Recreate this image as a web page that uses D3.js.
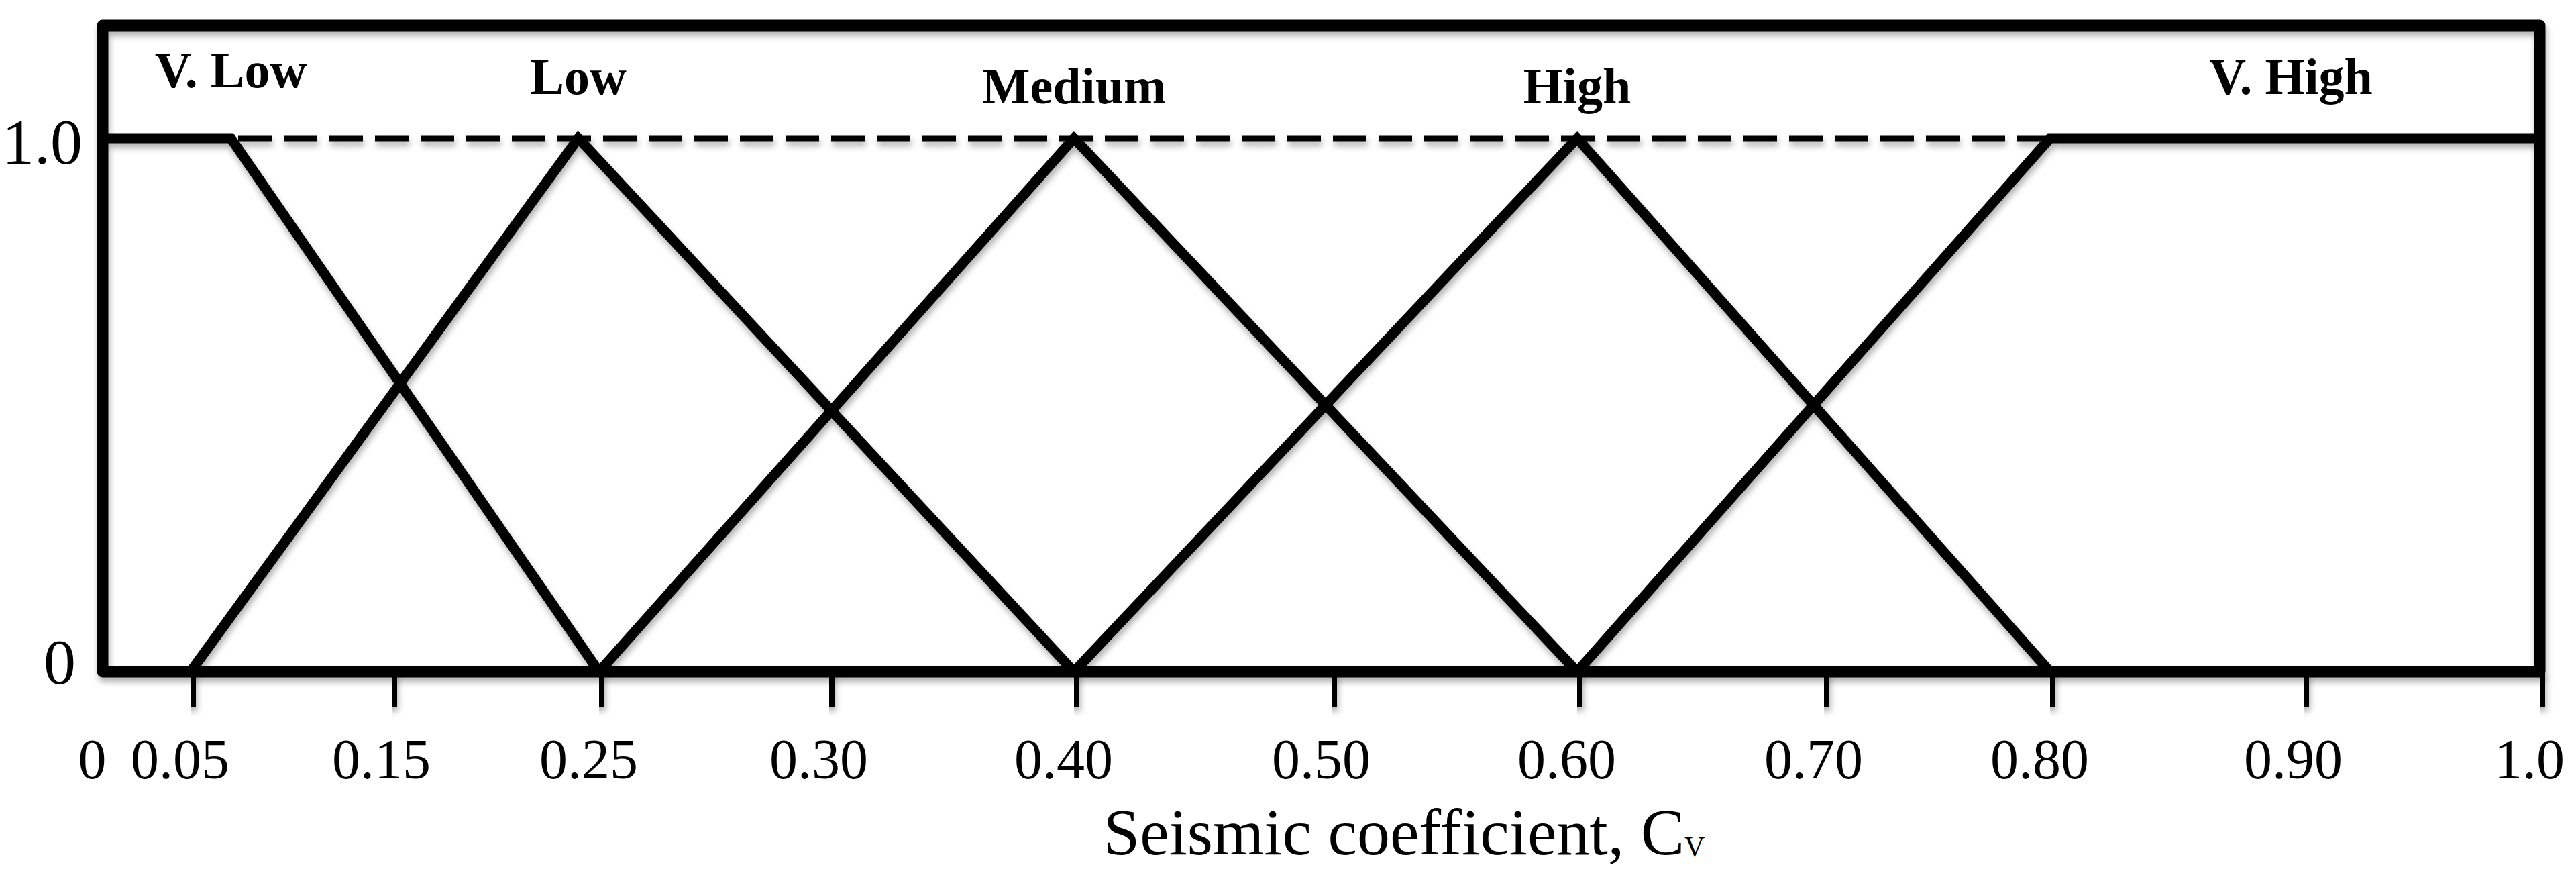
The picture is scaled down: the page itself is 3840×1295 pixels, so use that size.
<!DOCTYPE html>
<html>
<head>
<meta charset="utf-8">
<script src="https://cdn.jsdelivr.net/npm/d3@7"></script>
<style>
  html, body { margin: 0; padding: 0; background: #ffffff; }
  svg { display: block; }
</style>
</head>
<body>
<svg id="chart" width="3840" height="1295"></svg>
<script>
// ---------------- DATA ----------------
const xTickValues = [0, 0.05, 0.15, 0.25, 0.30, 0.40, 0.50, 0.60, 0.70, 0.80, 0.90, 1.0];
const xTickLabels = ["0", "0.05", "0.15", "0.25", "0.30", "0.40", "0.50", "0.60", "0.70", "0.80", "0.90", "1.0"];
const yTickValues = [0, 1];
const yTickLabels = ["0", "1.0"];
const categories = ["V. Low", "Low", "Medium", "High", "V. High"];

// membership functions (x = seismic coefficient, y = membership degree)
const vLowX = [0, 0.07, 0.25];
const vLowY = [1, 1, 0];
const lowX = [0.05, 0.24, 0.40];
const lowY = [0, 1, 0];
const mediumX = [0.25, 0.40, 0.60];
const mediumY = [0, 1, 0];
const highX = [0.40, 0.60, 0.80];
const highY = [0, 1, 0];
const vHighX = [0.60, 0.80, 1.0];
const vHighY = [0, 1, 1];

// dashed reference line at membership = 1
const refLineX = [0.07, 0.80];
const refLineY = [1, 1];

// where each category name sits along x (data units)
const categoryLabelAt = [0.07, 0.24, 0.40, 0.60, 0.895];

const xTitle = "Seismic coefficient, C";
const xTitleSub = "V";

// ---------------- LAYOUT ----------------
// the printed axis is not linear: pixel position of every tick value
const xTickPx = [153, 284, 584, 893, 1236, 1601, 1985, 2351, 2719, 3056, 3434, 3786];
const plotTop = 38, plotBottom = 1001, yOnePx = 206;
const categoryBaselines = [130, 140, 154, 154, 140];
const FONT = "'Liberation Serif', 'Times New Roman', Times, serif";

const svg = d3.select("#chart");

const x = d3.scaleLinear().domain(xTickValues).range(xTickPx);
const y = d3.scaleLinear().domain([0, 1]).range([plotBottom, yOnePx]);

// soft drop shadow like the reference
const defs = svg.append("defs");
const filt = defs.append("filter")
  .attr("id", "shadow")
  .attr("filterUnits", "userSpaceOnUse")
  .attr("x", 0).attr("y", 0).attr("width", 3840).attr("height", 1295);
filt.append("feDropShadow")
  .attr("dx", 2).attr("dy", 7).attr("stdDeviation", 5)
  .attr("flood-color", "#000").attr("flood-opacity", 0.3);

const g = svg.append("g").attr("filter", "url(#shadow)");

// dashed line at 1.0
const line = d3.line().x(d => x(d[0])).y(d => y(d[1]));
g.append("path")
  .datum(d3.zip(refLineX, refLineY))
  .attr("d", line)
  .attr("fill", "none")
  .attr("stroke", "#000")
  .attr("stroke-width", 9)
  .attr("stroke-dasharray", "50,18")
  .attr("stroke-dashoffset", -11);

// frame
const x0 = x(xTickValues[0]), x1 = x(xTickValues[xTickValues.length - 1]);
g.append("rect")
  .attr("x", x0).attr("y", plotTop)
  .attr("width", x1 - x0).attr("height", plotBottom - plotTop)
  .attr("fill", "none")
  .attr("stroke", "#000")
  .attr("stroke-width", 17)
  .attr("stroke-linejoin", "round");

// membership functions
const series = [
  d3.zip(vLowX, vLowY),
  d3.zip(lowX, lowY),
  d3.zip(mediumX, mediumY),
  d3.zip(highX, highY),
  d3.zip(vHighX, vHighY)
];
g.selectAll("path.mf")
  .data(series)
  .join("path")
  .attr("class", "mf")
  .attr("d", line)
  .attr("fill", "none")
  .attr("stroke", "#000")
  .attr("stroke-width", 15)
  .attr("stroke-linejoin", "miter")
  .attr("stroke-linecap", "butt");

// x axis (ticks + labels)
const xAxis = d3.axisBottom(x)
  .tickValues(xTickValues)
  .tickFormat((d, i) => xTickLabels[i])
  .tickSize(52)
  .tickSizeOuter(0);
const gx = svg.append("g")
  .attr("transform", `translate(0,${plotBottom})`)
  .call(xAxis);
gx.select(".domain").remove();
gx.selectAll(".tick line")
  .attr("stroke", "#000")
  .attr("stroke-width", 15)
  .attr("filter", "url(#shadow)")
  .attr("display", d => d === 0 ? "none" : null);
gx.selectAll(".tick text")
  .attr("y", 159)
  .attr("dy", 0)
  .attr("dx", -16)
  .attr("fill", "#000")
  .style("font-family", FONT)
  .style("font-size", "84px");
gx.attr("font-family", null).attr("font-size", null);

// y axis labels
const yAxis = d3.axisLeft(y)
  .tickValues(yTickValues)
  .tickFormat((d, i) => yTickLabels[i])
  .tickSize(0)
  .tickSizeOuter(0);
const gy = svg.append("g")
  .attr("transform", `translate(${x0},0)`)
  .call(yAxis);
gy.select(".domain").remove();
gy.selectAll(".tick text")
  .attr("x", d => d === 0 ? -40 : -30)
  .attr("dy", d => d === 0 ? 17 : 37)
  .attr("fill", "#000")
  .style("font-family", FONT)
  .style("font-size", "96px");
gy.attr("font-family", null).attr("font-size", null);

// category names
svg.append("g").selectAll("text")
  .data(categories)
  .join("text")
  .attr("x", (d, i) => x(categoryLabelAt[i]))
  .attr("y", (d, i) => categoryBaselines[i])
  .attr("text-anchor", "middle")
  .style("font-family", FONT)
  .style("font-weight", "bold")
  .style("font-size", "76px")
  .attr("fill", "#000")
  .text(d => d);

// x title
const title = svg.append("text")
  .attr("x", 2093)
  .attr("y", 1273)
  .attr("text-anchor", "middle")
  .style("font-family", FONT)
  .style("font-size", "98px")
  .attr("fill", "#000");
title.append("tspan").text(xTitle);
title.append("tspan").style("font-size", "42px").attr("dy", 3).text(xTitleSub);
</script>
</body>
</html>
